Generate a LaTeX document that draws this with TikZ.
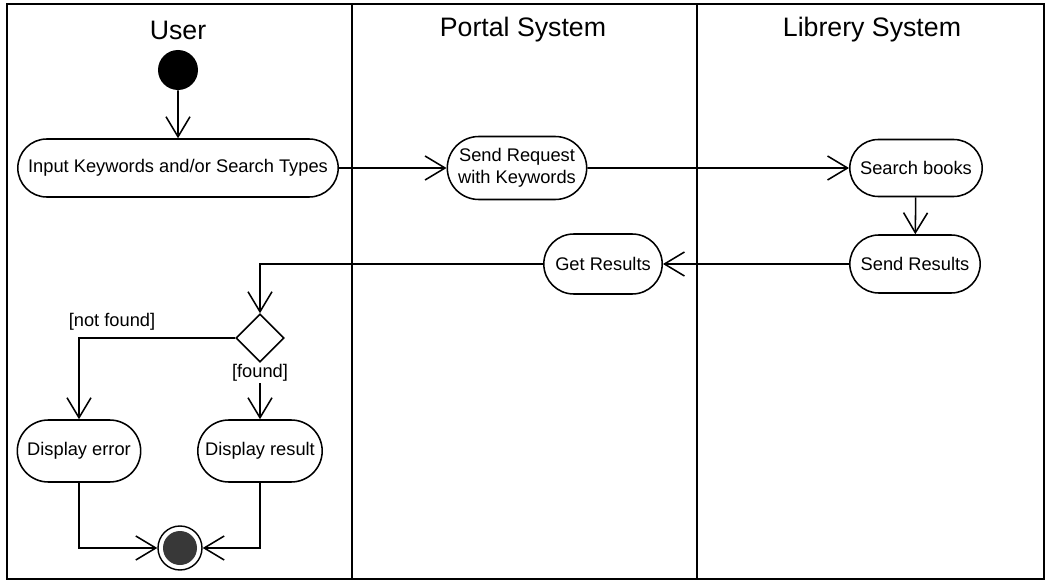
\documentclass[tikz,border=0pt]{standalone}
\usepackage{fontspec}
\setmainfont{Liberation Sans}
\usepackage{tikz}
\usetikzlibrary{shapes.geometric, shapes.misc, arrows.meta}
\tikzstyle{lane} = [line width=1pt]
\tikzstyle{lanehead} = [font=\fontsize{19}{22}\selectfont]
\tikzstyle{activity} = [rounded rectangle, draw=black, line width=1.1pt, minimum height=1.45cm, text centered, align=center, font=\fontsize{13}{15.5}\selectfont, inner xsep=2pt]
\tikzstyle{startnode} = [circle, fill=black, minimum size=1cm, inner sep=0pt]
\tikzstyle{decision} = [diamond, draw=black, line width=1.1pt, minimum width=1.2cm, minimum height=1.2cm, inner sep=0pt]
\tikzstyle{guard} = [font=\fontsize{13}{15.5}\selectfont, inner sep=1pt]
\tikzstyle{arrow} = [line width=1.1pt, -{Straight Barb[length=0.5cm, width=0.6cm, line width=1.1pt]}]

\begin{document}
\begin{tikzpicture}
\useasboundingbox (0,0) rectangle (26.225,-14.55);

% swimlanes
\draw [lane] (0.175,-0.1) rectangle (26.1,-14.475);
\draw [lane] (8.8,-0.1) -- (8.8,-14.475);
\draw [lane] (17.425,-0.1) -- (17.425,-14.475);
\node (user) [lanehead] at (4.45,-0.75) {User};
\node (portal) [lanehead] at (13.075,-0.75) {Portal System};
\node (library) [lanehead] at (21.8,-0.75) {Librery System};

\node (start) [startnode] at (4.45,-1.75) {};
\node (input) [activity, minimum width=8.15cm] at (4.45,-4.2) {Input Keywords and/or Search Types};
\node (request) [activity, minimum width=3.625cm, minimum height=1.575cm] at (12.925,-4.2) {Send Request\\with Keywords};
\node (search) [activity, minimum width=3.45cm, minimum height=1.425cm] at (22.9,-4.2) {Search books};
\node (send) [activity, minimum width=3.4cm] at (22.875,-6.6) {Send Results};
\node (get) [activity, minimum width=3.1cm, minimum height=1.5cm] at (15.075,-6.6) {Get Results};
\node (dec) [decision] at (6.5,-8.45) {};
\node (notfound) [guard] at (2.8,-8.05) {[not found]};
\node (found) [guard, anchor=north] at (6.5,-9.07) {[found]};
\node (error) [activity, minimum width=3.225cm, minimum height=1.55cm] at (1.975,-11.275) {Display error};
\node (result) [activity, minimum width=3.25cm, minimum height=1.55cm] at (6.5,-11.275) {Display result};
\node (end) [circle, draw=black, line width=1pt, minimum size=1.1cm, inner sep=0pt] at (4.5,-13.7) {};
\node (endin) [circle, fill=black!78, minimum size=0.85cm, inner sep=0pt] at (4.5,-13.7) {};

\draw [arrow] (start) -- (input);
\draw [arrow] (input) -- (request);
\draw [arrow] (request) -- (search);
\draw [arrow] (search) -- (send);
\draw [arrow] (send) -- (get);
\draw [arrow] (get.west) -| (dec.north);
\draw [arrow] (dec.west) -| (error.north);
\draw [arrow] (found) -- (result);
\draw [arrow] (error.south) |- (end.west);
\draw [arrow] (result.south) |- (end.east);
\end{tikzpicture}
\end{document}
